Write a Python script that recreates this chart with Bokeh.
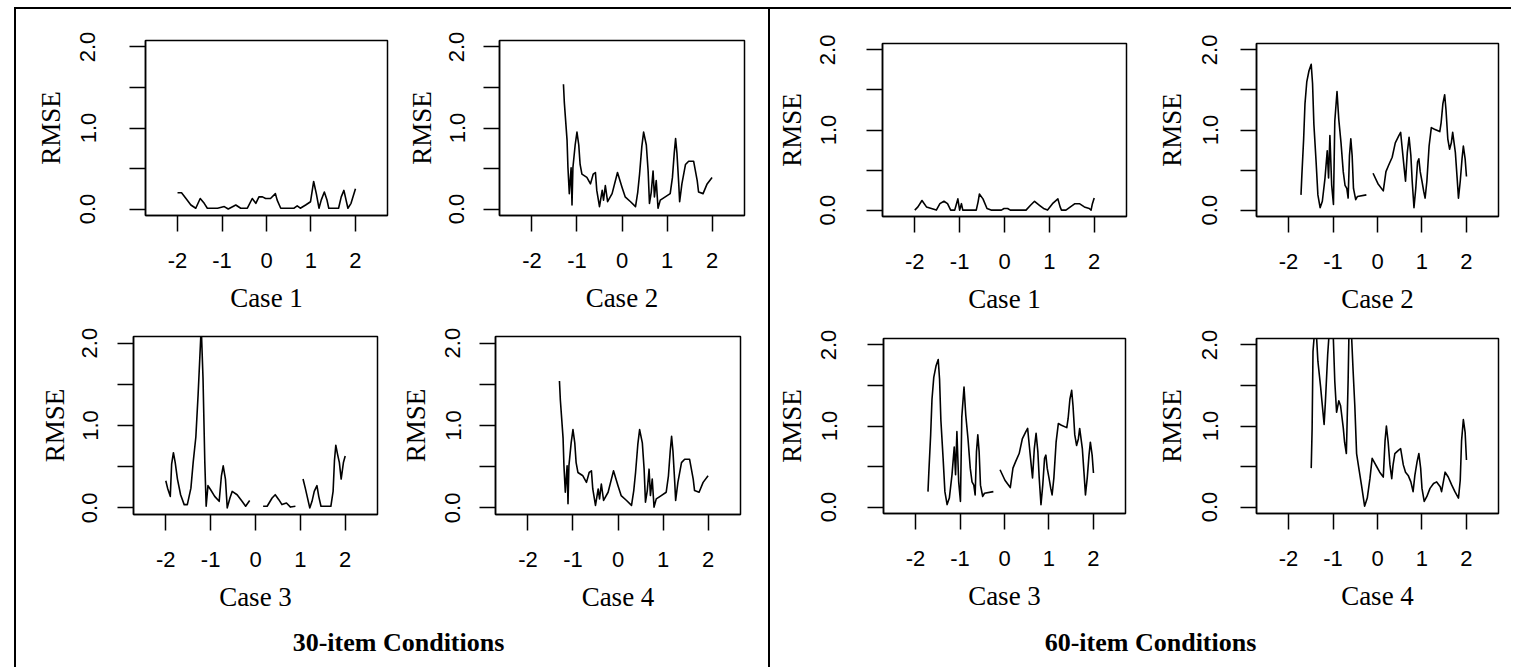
import numpy as np
from bokeh.plotting import figure
from bokeh.models import Range1d, FixedTicker, PrintfTickFormatter, Spacer, ColumnDataSource
from bokeh.layouts import row, column
from bokeh.embed import file_html
from bokeh.resources import INLINE

nan = float("nan")

# ---------------- data ----------------
x_ticks = [-2, -1, 0, 1, 2]
y_ticks = [0.0, 1.0, 2.0]
y_minor = [0.5, 1.5]

# 30-item, Case 1
c1_30_x = [-2.0, -1.91, -1.81, -1.70, -1.59, -1.49, -1.40, -1.33, -1.10, -0.95, -0.86, -0.69, -0.58, -0.43,
           -0.32, -0.24, -0.17, -0.09, -0.02, 0.09, 0.20, 0.24, 0.32, 0.62, 0.69, 0.76, 0.88, 0.99, 1.06,
           1.12, 1.18, 1.23, 1.30, 1.36, 1.40, 1.62, 1.68, 1.74, 1.83, 1.90, 2.0]
c1_30_y = [0.20, 0.20, 0.13, 0.05, 0.01, 0.13, 0.07, 0.01, 0.01, 0.03, 0.00, 0.05, 0.01, 0.01,
           0.13, 0.07, 0.15, 0.15, 0.13, 0.13, 0.19, 0.11, 0.01, 0.01, 0.04, 0.01, 0.05, 0.09, 0.34,
           0.19, 0.01, 0.11, 0.21, 0.11, 0.01, 0.01, 0.15, 0.23, 0.01, 0.07, 0.25]

# 30-item, Case 2
c2_30_x = [-1.30, -1.28, -1.22, -1.20, -1.17, -1.13, -1.11, -1.09, -1.04, -1.00, -0.96, -0.93, -0.89, -0.78,
           -0.70, -0.64, -0.59, -0.56, -0.50, -0.44, -0.41, -0.37, -0.32, -0.22, -0.10, 0.00, 0.07, 0.19,
           0.30, 0.35, 0.39, 0.44, 0.48, 0.54, 0.58, 0.61, 0.65, 0.69, 0.72, 0.76, 0.80, 0.85, 0.96, 1.07,
           1.12, 1.16, 1.19, 1.22, 1.26, 1.28, 1.33, 1.41, 1.48, 1.59, 1.67, 1.70, 1.80, 1.89, 2.00]
c2_30_y = [1.54, 1.31, 0.85, 0.51, 0.19, 0.51, 0.05, 0.51, 0.79, 0.95, 0.79, 0.55, 0.43, 0.39,
           0.31, 0.43, 0.45, 0.23, 0.03, 0.23, 0.11, 0.29, 0.09, 0.19, 0.45, 0.27, 0.15, 0.09,
           0.03, 0.21, 0.43, 0.77, 0.95, 0.79, 0.47, 0.07, 0.21, 0.47, 0.15, 0.35, 0.01, 0.11, 0.15, 0.19,
           0.39, 0.69, 0.87, 0.69, 0.31, 0.09, 0.31, 0.55, 0.59, 0.59, 0.35, 0.21, 0.19, 0.31, 0.39]

# 30-item, Case 3 (gaps = missing values)
c3_30_x = [-2.00, -1.96, -1.90, -1.87, -1.83, -1.79, -1.74, -1.67, -1.59, -1.52, -1.44, -1.39, -1.33, -1.28,
           -1.24, -1.21, -1.17, -1.13, -1.10, -1.06, -1.00, -0.91, -0.81, -0.76, -0.72, -0.67, -0.63, -0.57,
           -0.52, -0.41, -0.30, -0.22, -0.13, 0.00, 0.17, 0.26, 0.37, 0.44, 0.52, 0.59, 0.69, 0.78, 0.89,
           1.00, 1.06, 1.11, 1.21, 1.26, 1.31, 1.37, 1.41, 1.46, 1.68, 1.73, 1.76, 1.79, 1.83, 1.87, 1.91,
           1.96, 2.00]
c3_30_y = [0.33, 0.24, 0.14, 0.53, 0.67, 0.55, 0.35, 0.16, 0.04, 0.04, 0.24, 0.55, 0.86, 1.37,
           1.84, 2.20, 1.57, 0.55, 0.02, 0.27, 0.22, 0.14, 0.08, 0.39, 0.51, 0.35, 0.00, 0.12,
           0.20, 0.16, 0.08, 0.02, 0.09, nan, 0.02, 0.02, 0.12, 0.16, 0.10, 0.04, 0.06, 0.01, 0.02,
           nan, 0.35, 0.24, 0.00, 0.08, 0.20, 0.27, 0.14, 0.02, 0.02, 0.20, 0.57, 0.76, 0.65, 0.55, 0.35,
           0.55, 0.63]

# 30-item, Case 4
c4_30_x = list(c2_30_x)
c4_30_y = list(c2_30_y)

# 60-item, Case 1
c1_60_x = [-2.00, -1.93, -1.84, -1.74, -1.63, -1.52, -1.44, -1.35, -1.27, -1.20, -1.11, -1.07, -1.04, -1.00,
           -0.96, -0.93, -0.63, -0.59, -0.56, -0.48, -0.39, -0.30, -0.07, -0.01, 0.07, 0.13, 0.48, 0.58,
           0.67, 0.78, 0.87, 0.96, 1.07, 1.19, 1.24, 1.27, 1.37, 1.47, 1.57, 1.67, 1.78, 1.89, 1.93, 1.96, 2.00]
c1_60_y = [0.00, 0.04, 0.12, 0.04, 0.02, 0.00, 0.08, 0.11, 0.08, 0.00, 0.00, 0.08, 0.14, 0.00,
           0.08, 0.00, 0.00, 0.10, 0.20, 0.14, 0.02, 0.00, 0.00, 0.02, 0.02, 0.00, 0.00, 0.06,
           0.11, 0.06, 0.02, 0.00, 0.08, 0.14, 0.04, 0.00, 0.00, 0.04, 0.08, 0.08, 0.04, 0.02, 0.00, 0.08, 0.15]

# 60-item, Case 2
c2_60_x = [-1.72, -1.70, -1.66, -1.63, -1.59, -1.54, -1.49, -1.46, -1.43, -1.38, -1.34, -1.29, -1.24, -1.18,
           -1.13, -1.10, -1.07, -1.03, -0.99, -0.96, -0.91, -0.87, -0.82, -0.77, -0.73, -0.69, -0.66, -0.63,
           -0.60, -0.57, -0.54, -0.49, -0.45, -0.25, -0.17, -0.10, 0.01, 0.13, 0.19, 0.25, 0.33, 0.40, 0.48,
           0.52, 0.55, 0.60, 0.63, 0.67, 0.71, 0.75, 0.78, 0.82, 0.86, 0.90, 0.93, 0.96, 1.00, 1.04, 1.07,
           1.11, 1.16, 1.21, 1.28, 1.40, 1.43, 1.47, 1.51, 1.54, 1.58, 1.62, 1.66, 1.69, 1.75, 1.79, 1.82,
           1.86, 1.90, 1.93, 1.97, 2.00]
c2_60_y = [0.19, 0.44, 0.89, 1.33, 1.60, 1.74, 1.82, 1.58, 1.07, 0.60, 0.19, 0.03, 0.11, 0.40,
           0.74, 0.40, 0.93, 0.31, 0.07, 1.11, 1.48, 1.13, 0.84, 0.48, 0.31, 0.27, 0.15, 0.68,
           0.89, 0.68, 0.27, 0.13, 0.17, 0.19, nan, 0.46, 0.33, 0.24, 0.48, 0.56, 0.66, 0.84, 0.93,
           0.97, 0.80, 0.52, 0.36, 0.72, 0.91, 0.68, 0.36, 0.03, 0.27, 0.60, 0.64, 0.48, 0.36, 0.23, 0.15,
           0.36, 0.80, 1.03, 1.01, 0.98, 1.09, 1.33, 1.44, 1.25, 0.89, 0.76, 0.84, 0.97, 0.72, 0.40, 0.15,
           0.36, 0.64, 0.80, 0.64, 0.42]

# 60-item, Case 3
c3_60_x = list(c2_60_x)
c3_60_y = list(c2_60_y)

# 60-item, Case 4
c4_60_x = [-1.49, -1.47, -1.45, -1.41, -1.38, -1.34, -1.28, -1.25, -1.20, -1.17, -1.12, -1.08, -1.00, -0.96,
           -0.92, -0.87, -0.83, -0.77, -0.74, -0.70, -0.66, -0.64, -0.59, -0.55, -0.51, -0.47, -0.42, -0.36,
           -0.29, -0.23, -0.17, -0.12, -0.08, -0.02, 0.05, 0.13, 0.17, 0.20, 0.24, 0.28, 0.32, 0.35, 0.39,
           0.47, 0.52, 0.58, 0.63, 0.69, 0.75, 0.80, 0.84, 0.89, 0.93, 0.97, 1.00, 1.05, 1.11, 1.18, 1.26,
           1.33, 1.41, 1.44, 1.52, 1.59, 1.67, 1.74, 1.82, 1.86, 1.89, 1.93, 1.97, 2.00]
c4_60_y = [0.48, 0.96, 1.92, 2.20, 2.20, 1.80, 1.49, 1.31, 1.02, 1.31, 1.88, 2.20, 2.20, 1.55,
           1.17, 1.31, 1.25, 0.98, 0.80, 0.66, 1.57, 2.20, 2.20, 1.70, 1.25, 0.66, 0.48, 0.27,
           0.01, 0.11, 0.35, 0.60, 0.56, 0.50, 0.43, 0.37, 0.82, 1.00, 0.80, 0.52, 0.35, 0.52, 0.66,
           0.70, 0.72, 0.52, 0.43, 0.39, 0.31, 0.19, 0.39, 0.56, 0.66, 0.48, 0.23, 0.07, 0.13, 0.23, 0.29,
           0.31, 0.25, 0.19, 0.43, 0.37, 0.27, 0.19, 0.11, 0.33, 0.82, 1.08, 0.92, 0.58]

case_labels = ["Case 1", "Case 2", "Case 3", "Case 4"]
group_titles = ["30-item Conditions", "60-item Conditions"]
y_label = "RMSE"

# ---------------- styling helpers ----------------
SANS = "Liberation Sans"
SERIF = "Liberation Serif"


def panel(xs, ys, label, w, h, l, r, t, b, ytick_so, ylab_so):
    p = figure(width=w, height=h, x_range=Range1d(-2.72, 2.72), y_range=Range1d(-0.08, 2.08),
               toolbar_location=None, tools="", output_backend="svg",
               min_border_left=l, min_border_right=r, min_border_top=t, min_border_bottom=b)
    p.grid.visible = False
    p.outline_line_color = "black"
    p.outline_line_width = 1.5
    p.outline_line_alpha = 1.0
    src = ColumnDataSource(dict(x=np.array(xs, dtype=float), y=np.array(ys, dtype=float)))
    p.line("x", "y", source=src, line_color="black", line_width=1.6, line_join="round")

    xa = p.xaxis[0]
    xa.ticker = FixedTicker(ticks=x_ticks)
    xa.formatter = PrintfTickFormatter(format="%d")
    xa.axis_label = label
    xa.major_label_standoff = 21
    xa.axis_label_standoff = 12

    ya = p.yaxis[0]
    ya.ticker = FixedTicker(ticks=y_ticks, minor_ticks=y_minor)
    ya.formatter = PrintfTickFormatter(format="%.1f")
    ya.axis_label = y_label
    ya.major_label_orientation = "vertical"
    ya.major_label_standoff = ytick_so
    ya.axis_label_standoff = ylab_so

    for a in (xa, ya):
        a.axis_line_color = "black"
        a.axis_line_width = 1.5
        a.major_tick_line_color = "black"
        a.major_tick_line_width = 1.5
        a.major_tick_in = 0
        a.major_tick_out = 16
        a.minor_tick_line_color = "black"
        a.minor_tick_line_width = 1.5
        a.minor_tick_in = 0
        a.minor_tick_out = 16
        a.major_label_text_font = SANS
        a.major_label_text_font_size = "22px"
        a.major_label_text_color = "black"
        a.axis_label_text_font = SERIF
        a.axis_label_text_font_size = "27px"
        a.axis_label_text_font_style = "normal"
        a.axis_label_text_color = "black"
    return p


def title_fig(text, w, h, l, r, t):
    p = figure(width=w, height=h, x_range=Range1d(0, 1), y_range=Range1d(0, 1),
               toolbar_location=None, tools="", output_backend="svg",
               x_axis_location=None, y_axis_location=None,
               min_border_left=l, min_border_right=r, min_border_top=t, min_border_bottom=h - t - 1)
    p.grid.visible = False
    p.outline_line_color = None
    p.title.text = text
    p.title.align = "center"
    p.title.text_font = SERIF
    p.title.text_font_size = "26px"
    p.title.text_font_style = "bold"
    p.title.text_color = "black"
    p.title.standoff = 0
    return p


def line_block(w, h):
    return Spacer(width=w, height=h, styles={"background-color": "black"})


H1, H2, HT = 311, 294, 53
WL1, WL2 = 375, 377
WR1, WR2 = 360, 377

p1 = panel(c1_30_x, c1_30_y, case_labels[0], WL1, H1, 129, 4, 31, 104, 34, 12)
p2 = panel(c2_30_x, c2_30_y, case_labels[1], WL2, H1, 108, 24, 28, 105, 19, 10)
p3 = panel(c3_30_x, c3_30_y, case_labels[2], WL1, H2, 117, 14, 16, 99, 20, 10)
p4 = panel(c4_30_x, c4_30_y, case_labels[3], WL2, H2, 104, 28, 14, 99, 19, 12)

p5 = panel(c1_60_x, c1_60_y, case_labels[0], WR1, H1, 112, 4, 34, 98, 31, 11)
p6 = panel(c2_60_x, c2_60_y, case_labels[1], WR2, H1, 126, 9, 32, 104, 23, 13)
p7 = panel(c3_60_x, c3_60_y, case_labels[2], WR1, H2, 113, 5, 18, 101, 31, 12)
p8 = panel(c4_60_x, c4_60_y, case_labels[3], WR2, H2, 126, 9, 18, 101, 23, 13)

t_left = title_fig(group_titles[0], WL1 + WL2, HT, 12, 0, 42)
t_right = title_fig(group_titles[1], WR1 + WR2, HT, 23, 0, 42)

left_half = column(row(p1, p2), row(p3, p4), t_left)
right_half = column(row(p5, p6), row(p7, p8), t_right)

HB = H1 + H2 + HT
body = row(Spacer(width=14, height=HB), line_block(2, HB), left_half, line_block(2, HB), right_half)
top = column(Spacer(width=10, height=7),
             row(Spacer(width=14, height=2), line_block(2 + WL1 + WL2 + 2 + WR1 + WR2 + 4, 2)))
root = column(top, body)

open("out.html", "w").write(file_html(root, INLINE))
